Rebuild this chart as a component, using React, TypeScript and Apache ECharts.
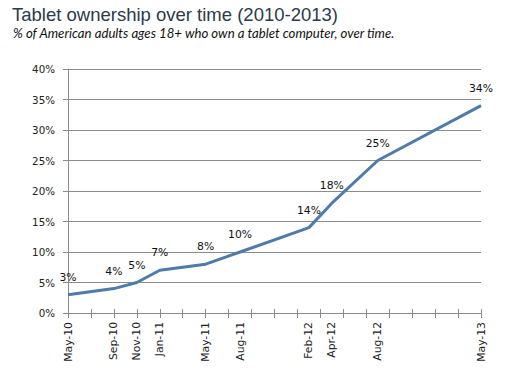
import React, { useEffect, useRef } from "react";
import * as echarts from "echarts";

const TITLE = "Tablet ownership over time (2010-2013)";
const SUBTITLE = "% of American adults ages 18+ who own a tablet computer, over time.";

const dateLabels = ["May-10", "Sep-10", "Nov-10", "Jan-11", "May-11", "Aug-11", "Feb-12", "Apr-12", "Aug-12", "May-13"];
const ownershipPct = [3, 4, 5, 7, 8, 10, 14, 18, 25, 34];
const yTicks = [0, 5, 10, 15, 20, 25, 30, 35, 40];

const MONTHS = ["Jan", "Feb", "Mar", "Apr", "May", "Jun", "Jul", "Aug", "Sep", "Oct", "Nov", "Dec"];
const START = "May-10";

function monthIndex(label: string): number {
  const [m, y] = label.split("-");
  return (2000 + Number(y)) * 12 + MONTHS.indexOf(m);
}
const startIdx = monthIndex(START);
const monthOffsets = dateLabels.map((l) => monthIndex(l) - startIdx);
const lastOffset = monthOffsets[monthOffsets.length - 1];

const labelByOffset: Record<number, string> = {};
monthOffsets.forEach((o, i) => (labelByOffset[o] = dateLabels[i]));

const GRID_COLOR = "#8c8c8c";
const AXIS_FONT = "DejaVu Sans";

export default function App() {
  const ref = useRef<HTMLDivElement>(null);
  useEffect(() => {
    if (!ref.current) return;
    const chart = echarts.init(ref.current, null, { renderer: "svg" });
    const baseX = {
      type: "value" as const,
      min: 0,
      max: lastOffset,
      position: "bottom" as const,
      splitLine: { show: false },
    };
    chart.setOption({
      animation: false,
      backgroundColor: "#ffffff",
      title: [
        {
          text: TITLE,
          left: 7,
          top: 0,
          textStyle: {
            fontFamily: "Liberation Sans",
            fontSize: 18.5,
            fontWeight: "normal",
            color: "#2b3a4a",
          },
        },
        {
          text: SUBTITLE,
          left: 8,
          top: 21,
          textStyle: {
            fontFamily: "Lato",
            fontSize: 13.2,
            fontStyle: "italic",
            fontWeight: "normal",
            color: "#111111",
          },
        },
      ],
      grid: { left: 68, right: 33, top: 69, bottom: 62, containLabel: false },
      xAxis: [
        {
          ...baseX,
          interval: 2,
          axisLine: { show: true, lineStyle: { color: GRID_COLOR, width: 1 } },
          axisTick: { show: true, inside: false, length: 5, lineStyle: { color: GRID_COLOR } },
          axisLabel: { show: false },
        },
        {
          ...baseX,
          interval: 2,
          axisLine: { show: false },
          axisTick: { show: true, inside: true, length: 4, lineStyle: { color: GRID_COLOR } },
          axisLabel: { show: false },
        },
        {
          ...baseX,
          interval: 1,
          axisLine: { show: false },
          axisTick: { show: false },
          axisLabel: {
            show: true,
            rotate: 90,
            margin: 9,
            fontFamily: AXIS_FONT,
            fontSize: 10.8,
            color: "#222222",
            showMinLabel: true,
            showMaxLabel: true,
            hideOverlap: false,
            formatter: (v: number) => labelByOffset[v] ?? "",
          },
        },
      ],
      yAxis: {
        type: "value",
        min: yTicks[0],
        max: yTicks[yTicks.length - 1],
        interval: yTicks[1] - yTicks[0],
        axisLine: { show: true, lineStyle: { color: GRID_COLOR, width: 1 } },
        axisTick: { show: true, length: 5, lineStyle: { color: GRID_COLOR } },
        splitLine: { show: true, lineStyle: { color: GRID_COLOR, width: 1 } },
        axisLabel: {
          margin: 13,
          fontFamily: AXIS_FONT,
          fontSize: 10.3,
          color: "#222222",
          formatter: "{value}%",
        },
      },
      series: [
        {
          type: "line",
          xAxisIndex: 0,
          data: monthOffsets.map((o, i) => [o, ownershipPct[i]]),
          showSymbol: true,
          symbol: "circle",
          symbolSize: 2,
          itemStyle: { color: "rgba(0,0,0,0)", borderWidth: 0 },
          lineStyle: { color: "#4f7bab", width: 3 },
          label: {
            show: true,
            position: "top",
            distance: 11,
            fontFamily: AXIS_FONT,
            fontSize: 10.8,
            color: "#111111",
            formatter: (p: any) => `${p.value[1]}%`,
          },
        },
      ],
    });
    return () => chart.dispose();
  }, []);
  return <div ref={ref} style={{ width: 514, height: 375, position: "absolute", left: 0, top: 0 }} />;
}
